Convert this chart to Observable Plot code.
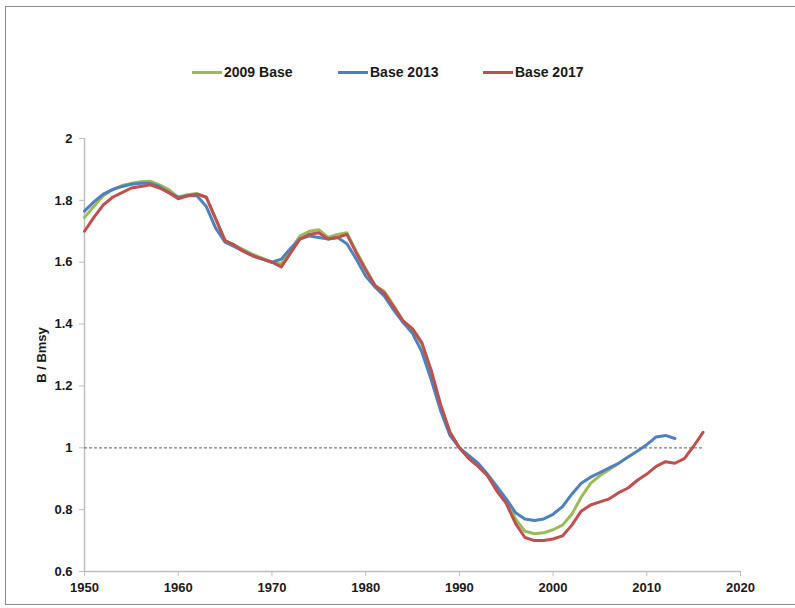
<!DOCTYPE html>
<html>
<head>
<meta charset="utf-8">
<script src="https://cdn.jsdelivr.net/npm/d3@7"></script>
<script src="https://cdn.jsdelivr.net/npm/@observablehq/plot@0.6"></script>
<style>
  html, body { margin: 0; padding: 0; background: #fff; }
  body { width: 795px; height: 608px; position: relative; overflow: hidden; font-family: "Liberation Sans", Arial, sans-serif; }
  #frame { position: absolute; left: 5px; top: 6px; width: 820px; height: 599px; border: 1.5px solid #8c8c8c; box-sizing: border-box; pointer-events: none; }
  #legend { position: absolute; left: 0; top: 0; width: 795px; height: 110px; }
  .item { position: absolute; top: 64px; display: flex; align-items: center; font-weight: bold; font-size: 14px; color: #1a1a1a; }
  .sw { width: 30px; height: 3px; margin-right: 2px; }
  #chart { position: absolute; left: 0; top: 110px; }
</style>
</head>
<body>
<div id="legend"></div>
<div id="chart"></div>
<div id="frame"></div>
<script>
const seriesNames = ["2009 Base", "Base 2013", "Base 2017"];
const seriesColors = ["#9bbb59", "#4f81bd", "#c0504d"];
const legendX = [192, 338, 483];

const years2009 = d3.range(1950, 2008);
const values2009 = [1.745,1.78,1.815,1.835,1.848,1.855,1.86,1.862,1.85,1.835,
  1.81,1.818,1.822,1.81,1.74,1.67,1.655,1.64,1.625,1.612,
  1.60,1.595,1.64,1.685,1.70,1.705,1.68,1.69,1.695,1.635,
  1.58,1.525,1.505,1.46,1.41,1.38,1.335,1.245,1.13,1.05,
  1.00,0.97,0.945,0.91,0.87,0.83,0.77,0.73,0.722,0.725,
  0.735,0.75,0.785,0.84,0.885,0.91,0.93,0.95];

const years2013 = d3.range(1950, 2014);
const values2013 = [1.765,1.795,1.82,1.835,1.845,1.852,1.855,1.855,1.845,1.825,
  1.81,1.815,1.815,1.78,1.71,1.665,1.65,1.635,1.62,1.61,
  1.60,1.61,1.645,1.675,1.685,1.68,1.675,1.68,1.66,1.61,
  1.555,1.52,1.49,1.445,1.405,1.37,1.31,1.22,1.12,1.04,
  1.00,0.975,0.95,0.915,0.875,0.835,0.79,0.77,0.765,0.77,
  0.785,0.81,0.85,0.885,0.905,0.92,0.935,0.95,0.97,0.99,
  1.01,1.035,1.04,1.03];

const years2017 = d3.range(1950, 2017);
const values2017 = [1.70,1.745,1.785,1.81,1.825,1.84,1.845,1.85,1.84,1.825,
  1.805,1.815,1.82,1.81,1.74,1.67,1.655,1.635,1.62,1.61,
  1.60,1.585,1.63,1.675,1.69,1.695,1.675,1.68,1.69,1.63,
  1.575,1.525,1.50,1.455,1.41,1.385,1.34,1.25,1.14,1.05,
  1.00,0.965,0.94,0.91,0.86,0.82,0.755,0.71,0.70,0.70,
  0.705,0.715,0.75,0.795,0.815,0.825,0.835,0.855,0.87,0.895,
  0.915,0.94,0.955,0.95,0.965,1.005,1.05];

const xTicks = [1950, 1960, 1970, 1980, 1990, 2000, 2010, 2020];
const yTicks = [0.6, 0.8, 1.0, 1.2, 1.4, 1.6, 1.8, 2.0];
const refValue = 1;
const refYears = [1950, 2016];

const allYears = [years2009, years2013, years2017];
const allValues = [values2009, values2013, values2017];
const rows = [];
seriesNames.forEach((name, i) => {
  allYears[i].forEach((yr, j) => rows.push({series: name, year: yr, value: allValues[i][j]}));
});

// legend
const leg = document.getElementById("legend");
seriesNames.forEach((name, i) => {
  const it = document.createElement("div");
  it.className = "item";
  it.style.left = legendX[i] + "px";
  it.innerHTML = `<span class="sw" style="background:${seriesColors[i]}"></span><span>${name}</span>`;
  leg.appendChild(it);
});

const axisColor = "#bfbfbf";
const chart = Plot.plot({
  width: 795,
  height: 498,
  marginTop: 28,
  marginBottom: 37,
  marginLeft: 84,
  marginRight: 55,
  style: { fontFamily: "'Liberation Sans', Arial, sans-serif", fontSize: "13px", fontWeight: "bold", color: "#1a1a1a", background: "transparent" },
  x: { domain: [1950, 2020] },
  y: { domain: [0.6, 2.0] },
  color: { domain: seriesNames, range: seriesColors },
  marks: [
    Plot.ruleX([1950], { stroke: axisColor, strokeWidth: 1.5 }),
    Plot.ruleY([0.6], { stroke: axisColor, strokeWidth: 1.5 }),
    Plot.axisX({ ticks: xTicks, tickFormat: d3.format("d"), tickSize: 5, tickPadding: 6, stroke: axisColor, strokeOpacity: 1, label: null }),
    Plot.axisY({ ticks: yTicks, tickFormat: d => String(+d.toFixed(1)), tickSize: 5, tickPadding: 7, stroke: axisColor, strokeOpacity: 1,
      label: "B / Bmsy", labelAnchor: "center", labelArrow: "none", labelOffset: 48 }),
    Plot.ruleY([refValue], { x1: refYears[0], x2: refYears[1], stroke: "#7f7f7f", strokeWidth: 1.2, strokeDasharray: "3,2" }),
    Plot.line(rows, { x: "year", y: "value", z: "series", stroke: "series", strokeWidth: 3, curve: "linear" })
  ]
});
document.getElementById("chart").appendChild(chart);
</script>
</body>
</html>
